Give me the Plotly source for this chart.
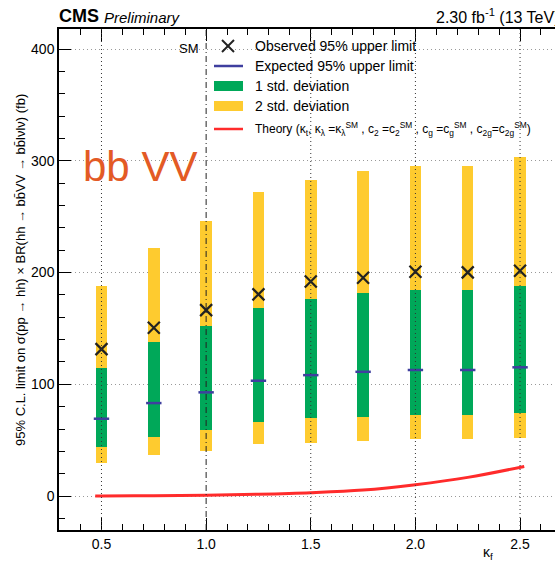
import plotly.graph_objects as go

# ---- data ----
kf = [0.5, 0.75, 1.0, 1.25, 1.5, 1.75, 2.0, 2.25, 2.5]
observed = [131.5, 150.6, 166.4, 180.5, 192.0, 195.4, 200.7, 200.2, 201.6]
expected = [69.2, 83.2, 92.8, 103.2, 108.2, 111.2, 112.8, 112.8, 115.2]
minus1 = [43.6, 52.8, 59.0, 66.5, 69.4, 71.0, 72.5, 72.5, 74.0]
plus1 = [114.8, 137.5, 152.4, 168.0, 176.4, 181.4, 184.3, 184.3, 187.9]
minus2 = [29.8, 36.7, 40.5, 46.3, 47.7, 49.2, 50.7, 50.7, 51.6]
plus2 = [188.0, 222.0, 246.0, 272.0, 282.8, 290.8, 295.6, 295.6, 303.6]

theory_kf = [0.47, 0.5, 0.75, 1.0, 1.25, 1.5, 1.75, 2.0, 2.25, 2.52]
theory = [0.05, 0.06, 0.25, 0.7, 1.6, 3.0, 5.4, 10.2, 16.7, 26.5]

x_ticks = [0.5, 1.0, 1.5, 2.0, 2.5]
y_ticks = [0, 100, 200, 300, 400]
sm_kf = 1.0

YELLOW = "#fecb2f"
GREEN = "#00a859"
BLUE = "#3f3f9f"
RED = "#ff2b2b"
FONT = "Liberation Sans, Arial, sans-serif"

W, H = 555, 561
ML, MR, MT, MB = 59, 0, 29, 31
PW, PH = W - ML - MR, H - MT - MB


def px(xp):
    return (xp - ML) / PW


def py(yp):
    return (H - MB - yp) / PH


fig = go.Figure()

fig.add_trace(go.Bar(
    x=kf, y=[p - m for p, m in zip(plus2, minus2)], base=minus2,
    width=0.055, marker=dict(color=YELLOW, line=dict(width=0)), showlegend=False))
fig.add_trace(go.Bar(
    x=kf, y=[p - m for p, m in zip(plus1, minus1)], base=minus1,
    width=0.055, marker=dict(color=GREEN, line=dict(width=0)), showlegend=False))
fig.add_trace(go.Scatter(
    x=kf, y=expected, mode="markers",
    marker=dict(symbol="line-ew", size=11, line=dict(color=BLUE, width=2.5)),
    showlegend=False))
fig.add_trace(go.Scatter(
    x=kf, y=observed, mode="markers",
    marker=dict(symbol="x-thin", size=12, line=dict(color="#222222", width=2.2)),
    showlegend=False))
fig.add_trace(go.Scatter(
    x=theory_kf, y=theory, mode="lines", line=dict(color=RED, width=3, shape="spline"),
    showlegend=False))

# vertical grid lines (drawn above the bars, as in the reference)
for xv in x_ticks:
    if xv == sm_kf:
        continue
    fig.add_shape(type="line", xref="x", yref="paper", x0=xv, x1=xv, y0=0, y1=1,
                  line=dict(color="#333333", width=1, dash="1px,3px"), layer="above")
fig.add_shape(type="line", xref="x", yref="paper", x0=sm_kf, x1=sm_kf, y0=0, y1=1,
              line=dict(color="#222222", width=1, dash="6px,3px,1px,3px"), layer="above")

# ---- manual legend ----
leg_x0, leg_x1, txt_x = 214, 243, 253
fig.add_shape(type="line", xref="paper", yref="paper", x0=px(222), x1=px(234), y0=py(40), y1=py(52),
              line=dict(color="#222222", width=2))
fig.add_shape(type="line", xref="paper", yref="paper", x0=px(222), x1=px(234), y0=py(52), y1=py(40),
              line=dict(color="#222222", width=2))
fig.add_shape(type="line", xref="paper", yref="paper", x0=px(leg_x0), x1=px(leg_x1), y0=py(66), y1=py(66),
              line=dict(color=BLUE, width=2.5))
fig.add_shape(type="rect", xref="paper", yref="paper", x0=px(leg_x0), x1=px(leg_x1), y0=py(91), y1=py(81),
              line=dict(width=0), fillcolor=GREEN)
fig.add_shape(type="rect", xref="paper", yref="paper", x0=px(leg_x0), x1=px(leg_x1), y0=py(111), y1=py(101),
              line=dict(width=0), fillcolor=YELLOW)
fig.add_shape(type="line", xref="paper", yref="paper", x0=px(leg_x0), x1=px(leg_x1), y0=py(129), y1=py(129),
              line=dict(color=RED, width=2.5))

legend_texts = [
    (46, "Observed 95% upper limit", 14),
    (66, "Expected 95% upper limit", 14),
    (86, "1 std. deviation", 14),
    (106, "2 std. deviation", 14),
    (129, "Theory (κ<sub>t</sub>, κ<sub>λ</sub> =κ<sub>λ</sub><sup>SM</sup> , c<sub>2</sub> =c<sub>2</sub><sup>SM</sup> , "
          "c<sub>g</sub> =c<sub>g</sub><sup>SM</sup> , c<sub>2g</sub>=c<sub>2g</sub><sup>SM</sup>)", 12),
]
for yp, t, fs in legend_texts:
    fig.add_annotation(xref="paper", yref="paper", x=px(txt_x), y=py(yp), text=t, showarrow=False,
                       xanchor="left", yanchor="middle", font=dict(size=fs, color="black"))

# other texts
fig.add_annotation(xref="paper", yref="paper", x=px(201), y=py(48), text="SM", showarrow=False,
                   xanchor="right", yanchor="middle", font=dict(size=13, color="black"))
fig.add_annotation(xref="paper", yref="paper", x=px(81), y=py(167), text="bb VV", showarrow=False,
                   xanchor="left", yanchor="middle", font=dict(size=42, color="#e35a25"))
fig.add_annotation(xref="paper", yref="paper", x=px(57), y=py(16), text="<b>CMS</b>", showarrow=False,
                   xanchor="left", yanchor="middle", font=dict(size=18, color="black"))
fig.add_annotation(xref="paper", yref="paper", x=px(102), y=py(17), text="<i>Preliminary</i>", showarrow=False,
                   xanchor="left", yanchor="middle", font=dict(size=15, color="black"))
fig.add_annotation(xref="paper", yref="paper", x=px(562), y=py(16), text="2.30 fb<sup>-1</sup> (13 TeV)",
                   showarrow=False, xanchor="right", yanchor="middle", font=dict(size=16, color="black"))
fig.add_annotation(xref="paper", yref="paper", x=px(488), y=py(553), text="κ<sub>f</sub>", showarrow=False,
                   xanchor="center", yanchor="middle", font=dict(size=14, color="black"))
fig.add_annotation(xref="paper", yref="paper", x=px(20), y=py(92), textangle=-90,
                   text="95% C.L. limit on σ(pp → hh) × BR(hh → bb\u0304VV → bb\u0304lνlν) (fb)",
                   showarrow=False, xanchor="center", yanchor="top", font=dict(size=13, color="black"))

fig.update_layout(
    width=W, height=H, margin=dict(l=ML, r=MR, t=MT, b=MB),
    paper_bgcolor="white", plot_bgcolor="white",
    barmode="overlay", bargap=0, showlegend=False,
    font=dict(family=FONT, size=14, color="black"),
    xaxis=dict(range=[0.297, 2.667], tickvals=x_ticks, ticktext=[f"{v:.1f}" for v in x_ticks],
               ticks="inside", ticklen=12, tickwidth=1, tickcolor="black",
               minor=dict(dtick=0.1, tick0=0.5, ticks="inside", ticklen=6, tickcolor="black", showgrid=False),
               showline=True, linecolor="black", linewidth=1.5, mirror="ticks",
               showgrid=False, zeroline=False, tickfont=dict(size=14)),
    yaxis=dict(range=[-30.4, 418], tickvals=y_ticks, ticks="inside", ticklen=12, tickwidth=1,
               tickcolor="black",
               minor=dict(dtick=20, tick0=0, ticks="inside", ticklen=6, tickcolor="black", showgrid=False),
               showline=True, linecolor="black", linewidth=1.5, mirror=False,
               showgrid=True, gridcolor="#999999", griddash="1px,3px", gridwidth=1,
               zeroline=False, tickfont=dict(size=14)),
)

fig.write_html("out.html")
